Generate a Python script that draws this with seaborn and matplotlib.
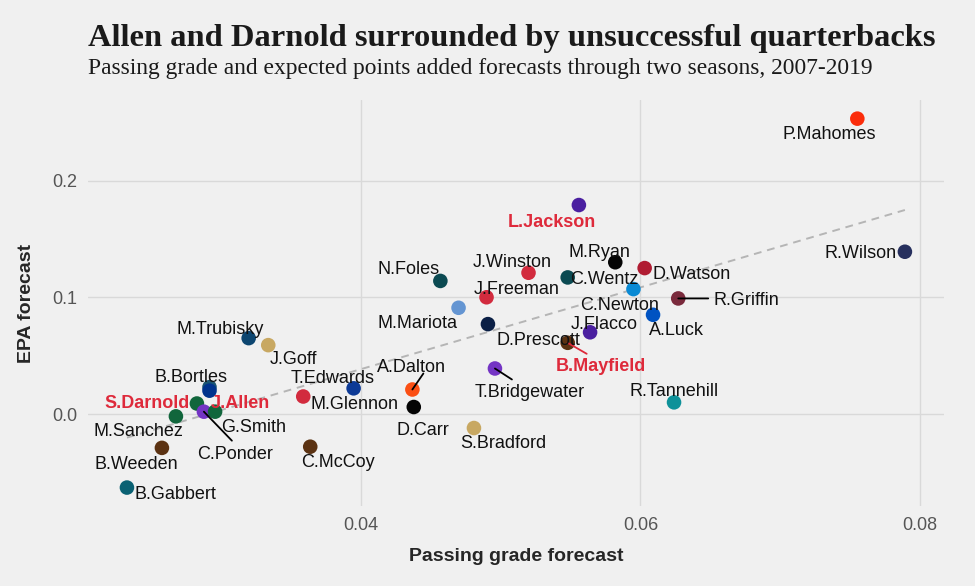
import matplotlib
matplotlib.use("Agg")
import matplotlib.pyplot as plt
import seaborn as sns
import pandas as pd

# datos: pronósticos por quarterback
jugadores = ["P.Mahomes", "R.Wilson", "L.Jackson", "M.Ryan", "J.Winston", "C.Wentz",
             "D.Watson", "C.Newton", "R.Griffin", "A.Luck", "J.Flacco", "B.Mayfield",
             "T.Bridgewater", "R.Tannehill", "N.Foles", "J.Freeman", "M.Mariota",
             "D.Prescott", "A.Dalton", "D.Carr", "S.Bradford", "T.Edwards", "M.Glennon",
             "C.McCoy", "J.Goff", "M.Trubisky", "B.Weeden", "B.Gabbert", "M.Sanchez",
             "S.Darnold", "B.Bortles", "J.Allen", "C.Ponder", "G.Smith"]
grado_pase = [0.0755, 0.0789, 0.0556, 0.0582, 0.0520, 0.0548,
              0.0603, 0.0595, 0.0627, 0.0609, 0.0564, 0.0548,
              0.0496, 0.0624, 0.0457, 0.0490, 0.0470,
              0.0491, 0.0437, 0.0438, 0.0481, 0.0395, 0.0359,
              0.0364, 0.0334, 0.0320, 0.0258, 0.0233, 0.0268,
              0.0283, 0.0292, 0.0292, 0.0288, 0.0296]
epa = [0.253, 0.139, 0.179, 0.130, 0.121, 0.117,
       0.125, 0.107, 0.099, 0.085, 0.070, 0.061,
       0.039, 0.010, 0.114, 0.100, 0.091,
       0.077, 0.021, 0.006, -0.012, 0.022, 0.015,
       -0.028, 0.059, 0.065, -0.029, -0.063, -0.002,
       0.009, 0.023, 0.020, 0.002, 0.002]
colores_equipo = ["#fb2c0a", "#27305e", "#4a1fa0", "#050505", "#d22b3e", "#0b4a52",
                  "#b01c32", "#0a8ad4", "#7a2a3c", "#0053c2", "#4a1fa0", "#5b3212",
                  "#7434c4", "#0e9199", "#0b4a52", "#d22b3e", "#6495d2",
                  "#0a1f45", "#fb4f14", "#050505", "#c8a862", "#0d3a96", "#d22b3e",
                  "#5b3212", "#c8a862", "#0d4670", "#5b3212", "#0a6173", "#11663c",
                  "#11663c", "#1a5572", "#00338d", "#7434c4", "#11663c"]
destacados = ["L.Jackson", "B.Mayfield", "S.Darnold", "J.Allen"]

df = pd.DataFrame({"jugador": jugadores, "grado": grado_pase, "epa": epa})

# desplazamientos de las etiquetas (pixeles, y hacia abajo) y segmentos
desp = {"P.Mahomes": (-28, 14), "R.Wilson": (-44, 0), "L.Jackson": (-27, 15),
        "M.Ryan": (-16, -12), "J.Winston": (-16, -12), "C.Wentz": (37, 0),
        "D.Watson": (47, 4), "C.Newton": (-14, 14), "R.Griffin": (68, 0),
        "A.Luck": (23, 14), "J.Flacco": (14, -10), "B.Mayfield": (33, 22),
        "T.Bridgewater": (35, 22), "R.Tannehill": (0, -13), "N.Foles": (-32, -13),
        "J.Freeman": (30, -10), "M.Mariota": (-41, 14), "D.Prescott": (51, 14),
        "A.Dalton": (-1, -24), "D.Carr": (9, 21), "S.Bradford": (29, 13),
        "T.Edwards": (-21, -12), "M.Glennon": (51, 6), "C.McCoy": (28, 14),
        "J.Goff": (25, 12), "M.Trubisky": (-28, -11), "B.Weeden": (-26, 15),
        "B.Gabbert": (48, 5), "M.Sanchez": (-37, 13), "S.Darnold": (-50, -2),
        "B.Bortles": (-18, -12), "J.Allen": (31, 11), "C.Ponder": (31, 41),
        "G.Smith": (39, 14)}
segmentos = {"C.Ponder": (28, 29), "A.Dalton": (11, -16), "T.Bridgewater": (17, 11),
             "R.Griffin": (30, 0), "B.Mayfield": (19, 11)}

ROJO = "#de2a3b"
FONDO = "#f0f0f0"

sns.set_style("whitegrid", {"axes.facecolor": FONDO, "figure.facecolor": FONDO,
                            "grid.color": "#d9d9d9", "axes.edgecolor": FONDO})
plt.rcParams["font.family"] = ["Liberation Sans", "DejaVu Sans"]

fig = plt.figure(figsize=(9.75, 5.86), dpi=100)
ax = fig.add_axes([0.0903, 0.1365, 0.8777, 0.6925])

sns.regplot(data=df, x="grado", y="epa", scatter=False, ci=None, ax=ax,
            line_kws={"color": "#b5b5b5", "linestyle": (0, (4, 3)), "linewidth": 1.4})

sns.scatterplot(data=df, x="grado", y="epa", hue="jugador", palette=colores_equipo,
                s=110, linewidth=0, legend=False, ax=ax, zorder=3)

for nombre, gx, gy in zip(jugadores, grado_pase, epa):
    dx, dy = desp[nombre]
    es_rojo = nombre in destacados
    ax.annotate(nombre, (gx, gy), xytext=(dx, -dy - 2), textcoords="offset pixels",
                ha="center", va="center", fontsize=13,
                color=ROJO if es_rojo else "#111111",
                fontweight="bold" if es_rojo else "normal", zorder=5)
    if nombre in segmentos:
        sx, sy = segmentos[nombre]
        ax.annotate("", (gx, gy), xytext=(sx, -sy), textcoords="offset pixels",
                    arrowprops=dict(arrowstyle="-", color=ROJO if es_rojo else "black",
                                    lw=1.3, shrinkA=0, shrinkB=0), zorder=4)

# limites con expansion del 5% como en ggplot
rx = max(grado_pase) - min(grado_pase)
ry = max(epa) - min(epa)
ax.set_xlim(min(grado_pase) - 0.05 * rx, max(grado_pase) + 0.05 * rx)
ax.set_ylim(min(epa) - 0.05 * ry, max(epa) + 0.05 * ry)
ax.set_xticks([0.04, 0.06, 0.08])
ax.set_xticklabels(["0.04", "0.06", "0.08"])
ax.set_yticks([0.0, 0.1, 0.2])
ax.set_yticklabels(["0.0", "0.1", "0.2"])
ax.tick_params(labelsize=13, colors="#555555", length=0, pad=8)
ax.grid(True, color="#d9d9d9", linewidth=1)
ax.set_xlabel("Passing grade forecast", fontsize=14, fontweight="bold", labelpad=10)
ax.set_ylabel("EPA forecast", fontsize=14, fontweight="bold", labelpad=12)
for lado in ax.spines.values():
    lado.set_visible(False)

fig.text(0.0903, 0.922, "Allen and Darnold surrounded by unsuccessful quarterbacks",
         fontsize=23.4, fontweight="bold", family="Liberation Serif", color="#1a1a1a")
fig.text(0.0903, 0.873, "Passing grade and expected points added forecasts through two seasons, 2007-2019",
         fontsize=16.9, family="Liberation Serif", color="#1a1a1a")

fig.savefig("out.png", dpi=100, facecolor=FONDO)
